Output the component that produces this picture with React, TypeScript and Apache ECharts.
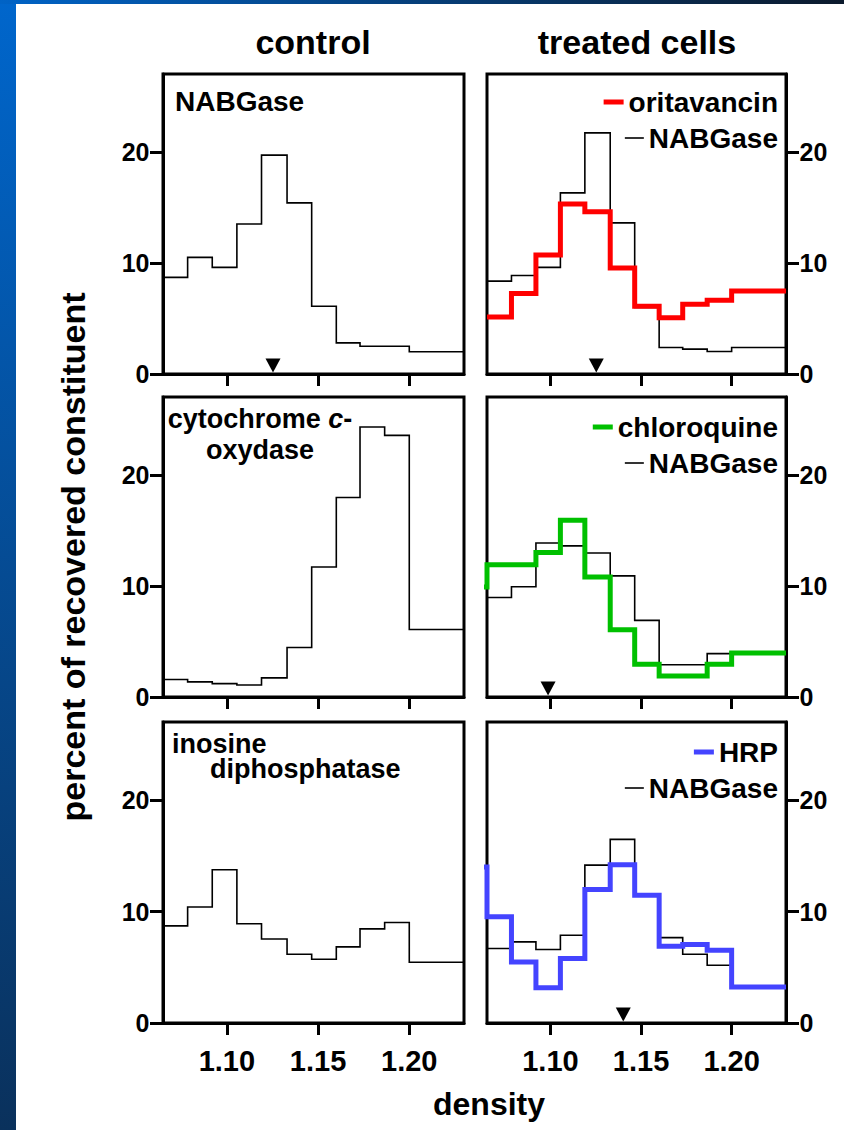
import React, { useEffect, useRef } from 'react';
import * as echarts from 'echarts';

// ---------- data ----------
const binEdges = [1.065, 1.0785, 1.092, 1.1055, 1.119, 1.133, 1.1465, 1.16, 1.173, 1.1865, 1.2, 1.23];
const leadInEdge = 1.0515;
const xTicks = [1.1, 1.15, 1.2];
const yTicks = [0, 10, 20];

const controlNABGase = [8.7, 10.5, 9.6, 13.5, 19.7, 15.4, 6.1, 2.8, 2.5, 2.5, 2.0];
const controlCytOx = [1.57, 1.36, 1.2, 1.08, 1.72, 4.46, 11.7, 17.95, 24.3, 23.55, 6.08];
const controlIDPase = [8.71, 10.4, 13.74, 8.9, 7.54, 6.17, 5.72, 6.83, 8.44, 9.01, 5.45];

const oritavancinHist = [5.13, 7.25, 10.7, 15.3, 14.6, 9.55, 6.1, 5.07, 6.27, 6.63, 7.46];
const oritavancinNABGase = [8.36, 8.87, 9.6, 16.3, 21.7, 13.6, 6.0, 2.39, 2.24, 2.03, 2.39];

const chloroquineLeadIn = 9.9;
const chloroquineHist = [11.9, 11.9, 13.0, 15.9, 10.8, 6.05, 2.95, 1.9, 1.9, 2.95, 3.97];
const chloroquineNABGase = [8.96, 9.92, 13.86, 13.6, 12.96, 10.9, 6.9, 2.9, 2.9, 3.9, 3.97];

const hrpLeadIn = 14.0;
const hrpHist = [9.52, 5.48, 3.17, 5.78, 11.98, 14.2, 11.47, 6.89, 7.04, 6.53, 3.23];
const hrpNABGase = [6.68, 7.28, 6.59, 7.87, 14.16, 16.47, 11.4, 7.66, 6.17, 5.18, 3.23];

// density of peak markers (arrowheads)
const markerControlNABGase = 1.1253;
const markerOritavancin = 1.1253;
const markerChloroquine = 1.0987;
const markerHRP = 1.1402;

// ---------- layout ----------
const FONT = '"Liberation Sans", Arial, Helvetica, sans-serif';
const colLeft = [163, 487];
const colWidth = [301, 299];
const rowTop = [74, 397, 722];
const rowHeight = [300, 300, 301];
const X_MIN = 1.065;
const X_MAX = 1.23;
const Y_MAX = 27;

const stepData = (edges: number[], values: number[]) => {
  const pts = values.map((v, i) => [edges[i], v]);
  pts.push([edges[values.length], values[values.length - 1]]);
  return pts;
};

function buildOption() {
  const grids: any[] = [];
  const xAxes: any[] = [];
  const yAxes: any[] = [];
  for (let r = 0; r < 3; r++) {
    for (let c = 0; c < 2; c++) {
      const gi = grids.length;
      grids.push({
        left: colLeft[c], top: rowTop[r], width: colWidth[c], height: rowHeight[r],
        show: true, borderColor: '#000', borderWidth: 3, backgroundColor: 'transparent',
        containLabel: false, outerBoundsMode: 'none',
      });
      xAxes.push({
        type: 'value', gridIndex: gi, min: X_MIN, max: X_MAX,
        axisLine: { show: true, onZero: false, lineStyle: { color: '#000', width: 3 } },
        axisTick: { show: true, length: 12, lineStyle: { color: '#000', width: 3 }, customValues: xTicks },
        axisLabel: {
          show: r === 2, customValues: xTicks, formatter: (v: number) => v.toFixed(2),
          fontSize: 29, fontWeight: 'bold', color: '#000', fontFamily: FONT, margin: 23,
        },
        splitLine: { show: false },
      });
      yAxes.push({
        type: 'value', gridIndex: gi, min: 0, max: Y_MAX, position: c === 0 ? 'left' : 'right',
        axisLine: { show: true, onZero: false, lineStyle: { color: '#000', width: 3 } },
        axisTick: { show: true, length: 13, lineStyle: { color: '#000', width: 3 }, customValues: yTicks },
        axisLabel: {
          show: true, customValues: yTicks, fontSize: 25, fontWeight: 'bold', color: '#000',
          fontFamily: FONT, margin: 13.5,
        },
        splitLine: { show: false },
      });
    }
  }

  const series: any[] = [];
  const addHist = (name: string, gi: number, edges: number[], values: number[], color: string, width: number) => {
    series.push({
      type: 'line', name, xAxisIndex: gi, yAxisIndex: gi, step: 'end',
      data: stepData(edges, values), symbol: 'none', showSymbol: false, color,
      lineStyle: { color, width, cap: 'butt', join: 'miter' }, silent: true, clip: true,
    });
  };
  const addMarker = (gi: number, x: number) => {
    series.push({
      type: 'scatter', name: 'marker' + gi, xAxisIndex: gi, yAxisIndex: gi, data: [[x, 0]],
      symbol: 'triangle', symbolSize: [15, 14], symbolRotate: 180, symbolOffset: [0, -8.5],
      itemStyle: { color: '#000', opacity: 1 }, silent: true, z: 5, clip: false,
    });
  };

  // row 1
  addHist('NABGase control', 0, binEdges, controlNABGase, '#000', 1.6);
  addMarker(0, markerControlNABGase);
  addHist('NABGase', 1, binEdges, oritavancinNABGase, '#000', 1.6);
  addHist('oritavancin', 1, binEdges, oritavancinHist, '#ff0000', 5);
  addMarker(1, markerOritavancin);
  // row 2
  addHist('cytochrome c-oxydase', 2, binEdges, controlCytOx, '#000', 1.6);
  addHist('NABGase', 3, binEdges, chloroquineNABGase, '#000', 1.6);
  addHist('chloroquine', 3, [leadInEdge, ...binEdges], [chloroquineLeadIn, ...chloroquineHist], '#00c000', 5);
  addMarker(3, markerChloroquine);
  // row 3
  addHist('inosine diphosphatase', 4, binEdges, controlIDPase, '#000', 1.6);
  addHist('NABGase', 5, binEdges, hrpNABGase, '#000', 1.6);
  addHist('HRP', 5, [leadInEdge, ...binEdges], [hrpLeadIn, ...hrpHist], '#4444ff', 5);
  addMarker(5, markerHRP);

  const legendFor = (name: string, color: string, top: number, thick: boolean) => ({
    data: [{ name, icon: 'rect', itemStyle: { color, borderWidth: 0 } }],
    right: 66, top, padding: 0, orient: 'horizontal', icon: 'rect',
    itemWidth: thick ? 20 : 19, itemHeight: thick ? 5 : 1.6, selectedMode: false,
    itemStyle: { borderWidth: 0 },
    textStyle: { fontSize: 28, fontWeight: 'bold', color: '#000', fontFamily: FONT, lineHeight: 30 },
  });
  const legends = [
    legendFor('oritavancin', '#ff0000', 87, true),
    legendFor('NABGase', '#000', 123, false),
    legendFor('chloroquine', '#00c000', 412, true),
    legendFor('NABGase', '#000', 448, false),
    legendFor('HRP', '#4444ff', 737, true),
    legendFor('NABGase', '#000', 773, false),
  ];

  const txt = (text: string, x: number, y: number, size: number, align = 'left', extra: any = {}) => ({
    type: 'text', x, y, silent: true, ...extra,
    style: {
      text, fill: '#000', fontSize: size, fontWeight: 'bold', fontFamily: FONT,
      textAlign: align, textVerticalAlign: 'middle', align, verticalAlign: 'middle',
    },
  });

  const graphic: any[] = [
    {
      type: 'rect', shape: { x: 0, y: 0, width: 16, height: 1130 }, silent: true,
      style: {
        fill: new echarts.graphic.LinearGradient(0, 0, 0, 1, [
          { offset: 0, color: '#0066cc' },
          { offset: 1, color: '#0a315c' },
        ]),
      },
    },
    {
      type: 'rect', shape: { x: 0, y: 0, width: 844, height: 4 }, silent: true,
      style: {
        fill: new echarts.graphic.LinearGradient(0, 0, 1, 0, [
          { offset: 0, color: '#0063c6' },
          { offset: 1, color: '#0c1a2c' },
        ]),
      },
    },
    txt('control', 313, 42, 34, 'center'),
    txt('treated cells', 637, 42, 34, 'center'),
    txt('NABGase', 175, 101, 28, 'left'),
    {
      type: 'text', x: 260, y: 419, silent: true,
      style: {
        text: '{n|cytochrome }{i|c}{n|-}', textAlign: 'center', textVerticalAlign: 'middle',
        align: 'center', verticalAlign: 'middle', fill: '#000',
        rich: {
          n: { fontSize: 27, fontWeight: 'bold', fontFamily: FONT, fill: '#000' },
          i: { fontSize: 27, fontWeight: 'bold', fontStyle: 'italic', fontFamily: FONT, fill: '#000' },
        },
      },
    },
    txt('oxydase', 260, 450, 27, 'center'),
    txt('inosine', 172, 744, 27, 'left'),
    txt('diphosphatase', 210, 769, 27, 'left'),
    txt('percent of recovered constituent', 73, 557, 34, 'center', { rotation: Math.PI / 2 }),
    txt('density', 489, 1104, 32, 'center'),
  ];

  return {
    animation: false,
    backgroundColor: '#ffffff',
    grid: grids,
    xAxis: xAxes,
    yAxis: yAxes,
    legend: legends,
    series,
    graphic,
  };
}

export default function App() {
  const ref = useRef<HTMLDivElement>(null);
  useEffect(() => {
    if (!ref.current) return;
    const chart = echarts.init(ref.current, null, { renderer: 'svg' });
    chart.setOption(buildOption() as any);
    return () => chart.dispose();
  }, []);
  return (
    <div
      ref={ref}
      style={{ position: 'absolute', left: 0, top: 0, width: 844, height: 1130, background: '#fff' }}
    />
  );
}
